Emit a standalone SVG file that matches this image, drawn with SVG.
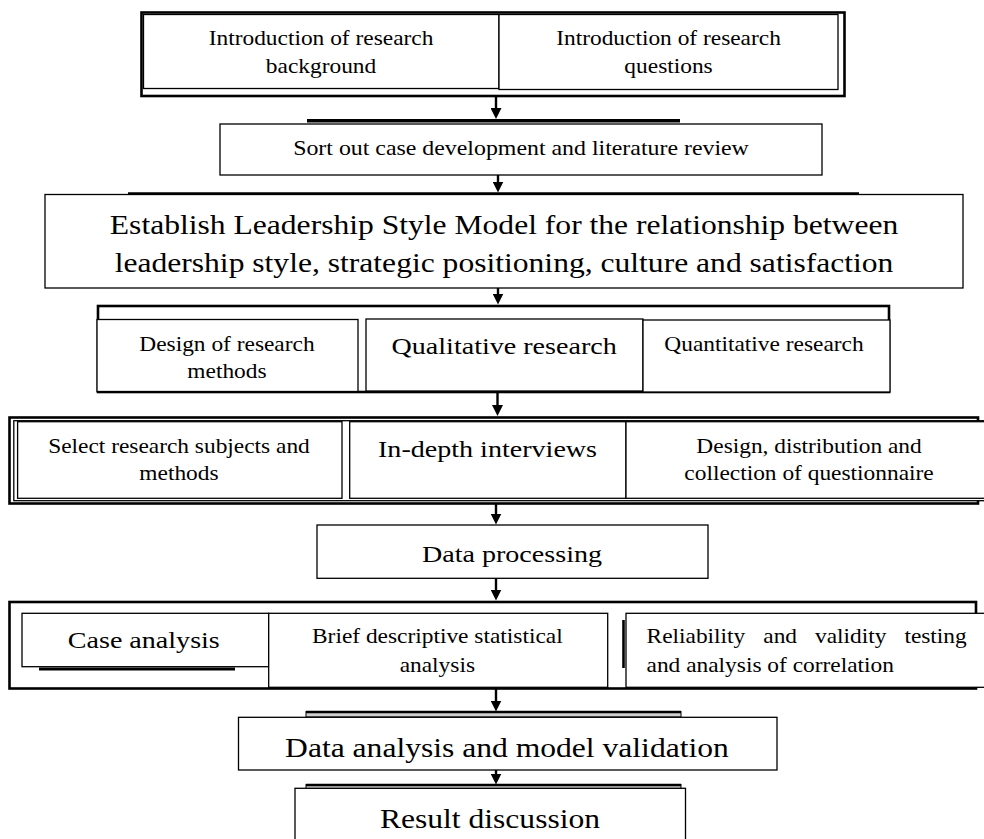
<svg xmlns="http://www.w3.org/2000/svg" width="984" height="839" viewBox="0 0 984 839">
  <style>
    .box { fill: #fff; stroke: #000; stroke-width: 1.3; }
    .frame { fill: #fff; stroke: #000; stroke-width: 2.6; }
    .heavy { fill: none; stroke: #000; stroke-width: 2.6; }
    .bar { fill: #000; }
    .shaft { stroke: #000; stroke-width: 2.4; fill: none; marker-end: url(#head); }
    text { font-family: "Liberation Serif", "Times New Roman", serif; fill: #000; text-anchor: middle; }
    .s20 { font-size: 20px; }
    .s24 { font-size: 24px; }
    .s27 { font-size: 27px; }
    .left { text-anchor: start; }
  </style>
  <defs>
    <marker id="head" markerUnits="userSpaceOnUse" markerWidth="11" markerHeight="11" refX="3" refY="5.5" orient="auto">
      <path d="M0,0 L11,5.5 L0,11 z" fill="#000"/>
    </marker>
  </defs>

  <rect width="984" height="839" fill="#fff"/>

  <!-- top block: background / questions -->
  <g id="intro">
    <rect class="frame" x="141.5" y="12.5" width="703" height="83.5"/>
    <rect class="box" x="143.5" y="14.5" width="355.5" height="74"/>
    <rect class="box" x="499" y="14.5" width="339" height="75"/>
    <g transform="scale(1.17 1)">
      <text class="s20" x="274.4" y="45">Introduction of research</text>
      <text class="s20" x="274.4" y="72.7">background</text>
      <text class="s20" x="571.4" y="45">Introduction of research</text>
      <text class="s20" x="571.4" y="72.7">questions</text>
    </g>
  </g>

  <!-- literature review -->
  <g id="review">
    <rect class="bar" x="307" y="119" width="373" height="3.5"/>
    <rect class="box" x="220" y="124" width="602" height="51"/>
    <g transform="scale(1.17 1)">
      <text class="s20" x="445.3" y="155.5" style="font-size:20.4px">Sort out case development and literature review</text>
    </g>
  </g>

  <!-- model -->
  <g id="model">
    <rect class="box" x="45" y="194.5" width="918" height="93.5"/>
    <line class="heavy" x1="128" y1="193.5" x2="859" y2="193.5" stroke-width="3"/>
    <g transform="scale(1.17 1)">
      <text class="s27" x="430.8" y="234">Establish Leadership Style Model for the relationship between</text>
      <text class="s27" x="430.8" y="272.3">leadership style, strategic positioning, culture and satisfaction</text>
    </g>
  </g>

  <!-- research methods -->
  <g id="methods">
    <rect class="frame" x="98" y="306" width="791" height="86"/>
    <rect class="box" x="97" y="319.5" width="261" height="72"/>
    <rect class="box" x="366" y="319" width="277" height="72" stroke-width="1.7"/>
    <rect class="box" x="643" y="320" width="247" height="72"/>
    <g transform="scale(1.17 1)">
      <text class="s20" x="194" y="351">Design of research</text>
      <text class="s20" x="194" y="378">methods</text>
      <text class="s24" x="430.9" y="354">Qualitative research</text>
      <text class="s20" x="653" y="351">Quantitative research</text>
    </g>
  </g>

  <!-- data collection -->
  <g id="collection">
    <rect class="frame" x="9.5" y="417.5" width="968.5" height="86"/>
    <rect class="box" x="13.8" y="420.7" width="985" height="80"/>
    <rect class="box" x="17.6" y="421.7" width="324.4" height="76.6"/>
    <rect class="box" x="349.7" y="421.7" width="276.3" height="76.6"/>
    <rect class="box" x="626" y="421.7" width="370" height="76.6"/>
    <g transform="scale(1.17 1)">
      <text class="s20" x="153" y="452.7">Select research subjects and</text>
      <text class="s20" x="153" y="480">methods</text>
      <text class="s24" x="416.7" y="457.3">In-depth interviews</text>
      <text class="s20" x="691.5" y="452.7">Design, distribution and</text>
      <text class="s20" x="691.5" y="480">collection of questionnaire</text>
    </g>
  </g>

  <!-- processing -->
  <g id="processing">
    <rect class="box" x="317" y="525" width="391" height="53.3"/>
    <g transform="scale(1.17 1)">
      <text class="s24" x="437.6" y="561.7">Data processing</text>
    </g>
  </g>

  <!-- analysis -->
  <g id="analysis">
    <rect class="frame" x="9.5" y="602" width="966.5" height="86.5"/>
    <rect class="box" x="22" y="613.3" width="246.7" height="53.4"/>
    <rect class="bar" x="39" y="667.5" width="196" height="3"/>
    <rect class="box" x="268.7" y="613.3" width="339" height="74"/>
    <rect class="box" x="626" y="613.3" width="370" height="74"/>
    <line class="heavy" x1="623.5" y1="620" x2="623.5" y2="668"/>
    <g transform="scale(1.17 1)">
      <text class="s24" x="122.9" y="648.3">Case analysis</text>
      <text class="s20" x="373.8" y="643.3">Brief descriptive statistical</text>
      <text class="s20" x="373.8" y="671.7">analysis</text>
      <text class="s20 left" y="643.3"><tspan x="552.6">Reliability</tspan><tspan x="652.4">and</tspan><tspan x="696.6">validity</tspan><tspan x="773">testing</tspan></text>
      <text class="s20 left" x="552.6" y="671.7">and analysis of correlation</text>
    </g>
  </g>

  <!-- validation -->
  <g id="validation">
    <rect x="306" y="711.5" width="375" height="5.5" fill="#cfcfcf" stroke="#000" stroke-width="1"/>
    <line class="heavy" x1="306" y1="712" x2="681" y2="712"/>
    <rect class="box" x="238.5" y="717.3" width="538.5" height="52.7"/>
    <g transform="scale(1.17 1)">
      <text class="s27" x="433.3" y="756.7">Data analysis and model validation</text>
    </g>
  </g>

  <!-- discussion -->
  <g id="discussion">
    <rect x="306" y="784.5" width="375" height="4" fill="#cfcfcf" stroke="#000" stroke-width="1"/>
    <line class="heavy" x1="306" y1="785" x2="681" y2="785"/>
    <rect class="box" x="295" y="788.3" width="390.5" height="60"/>
    <g transform="scale(1.17 1)">
      <text class="s27" x="418.8" y="828.3">Result discussion</text>
    </g>
  </g>

  <!-- connectors -->
  <g id="connectors">
    <line class="shaft" x1="496" y1="96" x2="496" y2="111"/>
    <line class="shaft" x1="498" y1="175" x2="498" y2="184.5"/>
    <line class="shaft" x1="498" y1="288" x2="498" y2="296.5"/>
    <line class="shaft" x1="497.5" y1="392" x2="497.5" y2="408"/>
    <line class="shaft" x1="496" y1="503.5" x2="496" y2="516.5"/>
    <line class="shaft" x1="496" y1="578.3" x2="496" y2="592.5"/>
    <line class="shaft" x1="496" y1="688.5" x2="496" y2="703.5"/>
    <line class="shaft" x1="496" y1="770" x2="496" y2="776.5"/>
  </g>
</svg>
